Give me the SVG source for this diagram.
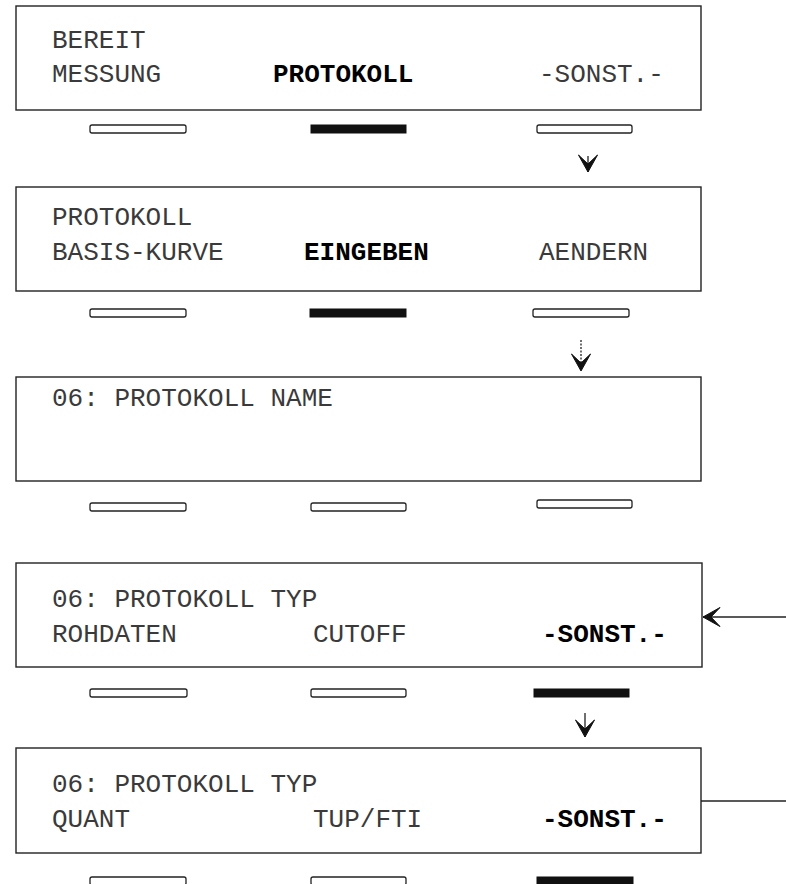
<svg xmlns="http://www.w3.org/2000/svg" width="786" height="884" viewBox="0 0 786 884">
  <defs>
    <style>
      .screen { fill: #ffffff; stroke: #222222; stroke-width: 1.4; }
      .txt { font-family: "Liberation Mono", "Courier New", monospace; font-size: 26px; fill: #3a3a3a; }
      .sel { font-weight: bold; fill: #000000; }
      .key { fill: #ffffff; stroke: #222222; stroke-width: 1.3; }
      .key-on { fill: #111111; stroke: #111111; stroke-width: 1; }
      .wire { fill: none; stroke: #222222; stroke-width: 1.3; }
      .dotted { stroke-dasharray: 2 1.5; }
    </style>
    <marker id="head" markerUnits="userSpaceOnUse" markerWidth="22" markerHeight="24" viewBox="-19 -12 21 24" refX="0" refY="0" orient="auto">
      <path d="M0,0 L-17,-9.5 L-8,0 L-17,9.5 Z" fill="#111111" stroke="#111111" stroke-width="1" stroke-linejoin="round"/>
    </marker>
  </defs>

  <rect width="786" height="884" fill="#ffffff"/>

  <!-- Screen 1: ready menu -->
  <g id="screen-bereit">
    <rect class="screen" x="16" y="6" width="685" height="104"/>
    <text class="txt" x="52" y="48">BEREIT</text>
    <text class="txt" x="52" y="82">MESSUNG</text>
    <text class="txt sel" x="273" y="82">PROTOKOLL</text>
    <text class="txt" x="539" y="82">-SONST.-</text>
    <rect class="key" x="90" y="125" width="96" height="8" rx="2"/>
    <rect class="key-on" x="311" y="125" width="95" height="8"/>
    <rect class="key" x="537" y="125" width="95" height="8" rx="2"/>
  </g>

  <!-- Screen 2: protocol menu -->
  <g id="screen-protokoll">
    <rect class="screen" x="16" y="187" width="685" height="104"/>
    <text class="txt" x="52" y="225">PROTOKOLL</text>
    <text class="txt" x="52" y="260">BASIS-KURVE</text>
    <text class="txt sel" x="304" y="260">EINGEBEN</text>
    <text class="txt" x="539" y="260">AENDERN</text>
    <rect class="key" x="90" y="309" width="96" height="8" rx="2"/>
    <rect class="key-on" x="310" y="309" width="96" height="8"/>
    <rect class="key" x="533" y="309" width="96" height="8" rx="2"/>
  </g>

  <!-- Screen 3: protocol name -->
  <g id="screen-name">
    <rect class="screen" x="16" y="377" width="685" height="104"/>
    <text class="txt" x="52" y="406">06: PROTOKOLL NAME</text>
    <rect class="key" x="90" y="503" width="96" height="8" rx="2"/>
    <rect class="key" x="311" y="503" width="95" height="8" rx="2"/>
    <rect class="key" x="537" y="500" width="95" height="8" rx="2"/>
  </g>

  <!-- Screen 4: protocol type, page 1 -->
  <g id="screen-typ-1">
    <rect class="screen" x="16" y="563" width="686" height="104"/>
    <text class="txt" x="52" y="607">06: PROTOKOLL TYP</text>
    <text class="txt" x="52" y="642">ROHDATEN</text>
    <text class="txt" x="313" y="642">CUTOFF</text>
    <text class="txt sel" x="542" y="642">-SONST.-</text>
    <rect class="key" x="90" y="689" width="97" height="8" rx="2"/>
    <rect class="key" x="311" y="689" width="95" height="8" rx="2"/>
    <rect class="key-on" x="534" y="689" width="95" height="8"/>
  </g>

  <!-- Screen 5: protocol type, page 2 -->
  <g id="screen-typ-2">
    <rect class="screen" x="16" y="748" width="685" height="105"/>
    <text class="txt" x="52" y="792">06: PROTOKOLL TYP</text>
    <text class="txt" x="52" y="827">QUANT</text>
    <text class="txt" x="313" y="827">TUP/FTI</text>
    <text class="txt sel" x="542" y="827">-SONST.-</text>
    <rect class="key" x="90" y="877" width="96" height="8" rx="2"/>
    <rect class="key" x="311" y="877" width="95" height="8" rx="2"/>
    <rect class="key-on" x="537" y="877" width="96" height="8"/>
  </g>

  <!-- Connectors -->
  <g id="connectors">
    <line class="wire" x1="588" y1="156" x2="588" y2="172" marker-end="url(#head)"/>
    <line class="wire dotted" x1="581" y1="340" x2="581" y2="371" marker-end="url(#head)"/>
    <line class="wire" x1="585" y1="713" x2="585" y2="737" marker-end="url(#head)"/>
    <line class="wire" x1="786" y1="617" x2="703" y2="617" marker-end="url(#head)"/>
    <line class="wire" x1="701" y1="801" x2="786" y2="801"/>
  </g>
</svg>
